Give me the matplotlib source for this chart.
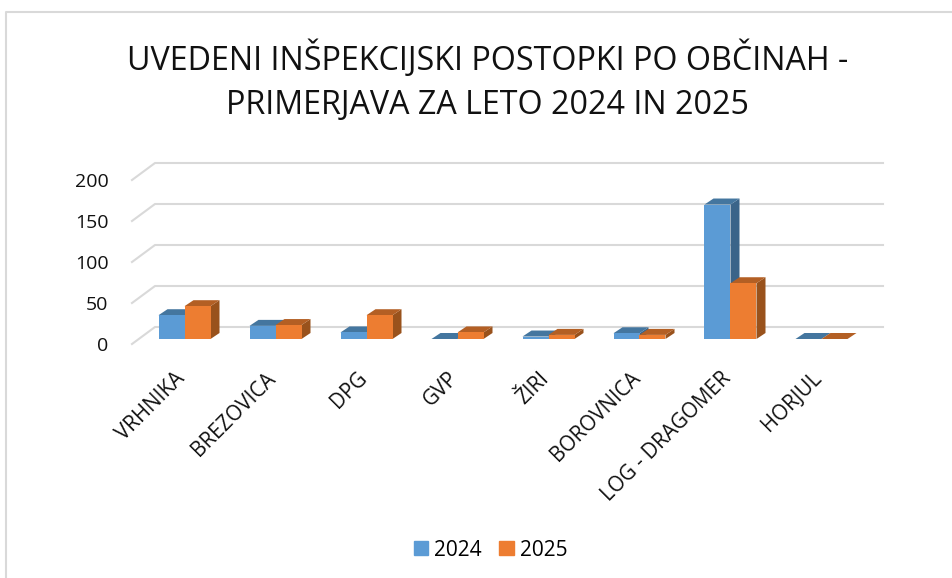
import matplotlib
matplotlib.use("Agg")
import matplotlib.pyplot as plt
from matplotlib.lines import Line2D
from matplotlib.patches import Rectangle

categories = ["VRHNIKA", "BREZOVICA", "DPG", "GVP", "ŽIRI", "BOROVNICA", "LOG - DRAGOMER", "HORJUL"]
values_2024 = [29, 16, 8, 0, 3, 7, 164, 0]
values_2025 = [40, 17, 29, 8, 5, 5, 68, 0]
years = ["2024", "2025"]
yticks = [0, 50, 100, 150, 200]

W, H = 952, 578
PX_X = 91.0  # px per category
PX_Y = 0.82  # px per unit

plt.rcParams["font.family"] = ["Open Sans", "DejaVu Sans"]

fig = plt.figure(figsize=(W / 100, H / 100), dpi=100)
# frame is cut off on the right and at the bottom
fig.add_artist(Line2D([6 / W, 6 / W, 1], [0, 1 - 12 / H, 1 - 12 / H], color="#d9d9d9", lw=1.5))

left, right, floor, top = 132, 860, 344, 180
ax = fig.add_axes([left / W, 1 - floor / H, (right - left) / W, (floor - top) / H])
ax.set_xlim(-0.5, 7.5)
ax.set_ylim(0, 200)
ax.patch.set_visible(False)
for s in ax.spines.values():
    s.set_visible(False)

# depth of the floor and of a bar, in data units
wall_dx, wall_dy = 23 / PX_X, 17 / PX_Y
bar_dx, bar_dy = 9 / PX_X, 6 / PX_Y
lift_x, lift_y = 7 / PX_X, 5 / PX_Y
bar_w = 26 / PX_X


def draw_bar(x, v, front, side, roof, z):
    y0 = lift_y
    y1 = lift_y + v
    ax.bar(x, v, bar_w, bottom=y0, color=front, align="edge", zorder=z + 0.2, clip_on=False)
    ax.fill([x + bar_w, x + bar_w + bar_dx, x + bar_w + bar_dx, x + bar_w],
            [y0, y0 + bar_dy, y1 + bar_dy, y1], color=side, lw=0, zorder=z, clip_on=False)
    ax.fill([x, x + bar_dx, x + bar_w + bar_dx, x + bar_w],
            [y1, y1 + bar_dy, y1 + bar_dy, y1], color=roof, lw=0, zorder=z + 0.1, clip_on=False)


# gridlines: side wall and back wall
for t in yticks:
    ax.plot([-0.5, -0.5 + wall_dx, 7.5 + wall_dx], [t, t + wall_dy, t + wall_dy],
            color="#d9d9d9", lw=1.5, zorder=1, clip_on=False)

for i in range(len(categories)):
    xc = i + lift_x
    draw_bar(xc - bar_w, values_2024[i], "#5b9bd5", "#3a6489", "#44769f", 2)
    draw_bar(xc, values_2025[i], "#ed7d31", "#99521c", "#b35f24", 3)

# annotate instead of tick labels: tick labels can't be nudged sideways
ax.set_xticks([])
for i, name in enumerate(categories):
    ax.annotate(name, xy=(i, 0), xytext=(-3, -24), textcoords="offset pixels", rotation=45,
                ha="right", va="top", rotation_mode="anchor", fontsize=14.9, color="#111111",
                annotation_clip=False)
ax.set_yticks(yticks)
ax.set_yticklabels([str(t) for t in yticks], fontsize=14, color="#111111")
ax.tick_params(axis="both", length=0)
ax.tick_params(axis="y", pad=17)

fig.text(487.5 / W, 1 - 81 / H, "UVEDENI INŠPEKCIJSKI POSTOPKI PO OBČINAH -\nPRIMERJAVA ZA LETO 2024 IN 2025",
         ha="center", va="center", fontsize=23.2, color="#111111", linespacing=1.42)

# legend
handles = [Rectangle((0, 0), 1, 1, color=c) for c in ["#5b9bd5", "#ed7d31"]]
fig.legend(handles, years, loc="center", bbox_to_anchor=(490.5 / W, 1 - 550 / H), ncol=2, frameon=False,
           fontsize=15, handlelength=0.68, handleheight=0.68, handletextpad=0.29, columnspacing=0.85)

fig.savefig("out.png", dpi=100)
